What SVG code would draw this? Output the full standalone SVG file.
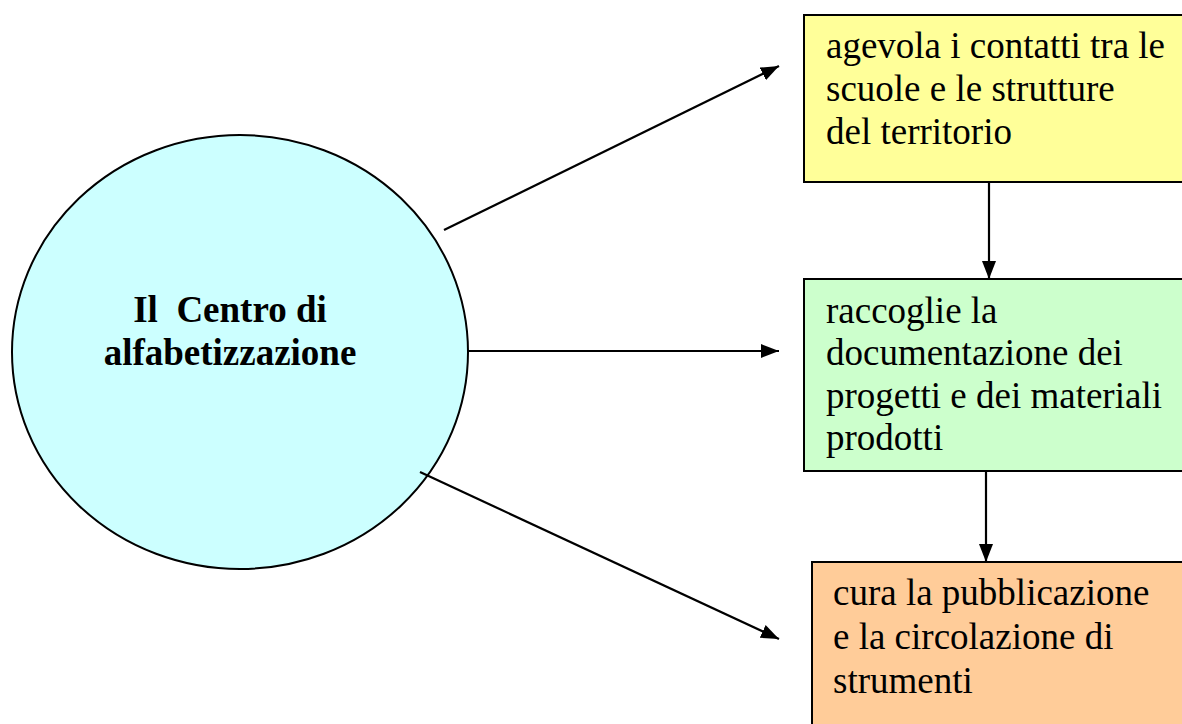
<svg xmlns="http://www.w3.org/2000/svg" width="1182" height="724" viewBox="0 0 1182 724">
<style>
.box{stroke:#000;stroke-width:2}
.t{font-family:"Liberation Serif","Times New Roman",serif;font-size:37px;fill:#000}
.b{font-weight:bold}
.c{stroke:#000;stroke-width:2.2;fill:none}
</style>
<defs>
<marker id="ah" markerWidth="10" markerHeight="8" refX="10" refY="4" orient="auto" markerUnits="userSpaceOnUse" viewBox="0 0 10 8">
<path d="M0,0 L10,4 L0,8 Z" fill="#000"/>
</marker>
<marker id="ah2" markerWidth="18" markerHeight="14" refX="18" refY="7" orient="auto" markerUnits="userSpaceOnUse" viewBox="0 0 18 14">
<path d="M0,0 L18,7 L0,14 Z" fill="#000"/>
</marker>
</defs>
<rect width="1182" height="724" fill="#fff"/>
<g id="center">
<ellipse cx="240" cy="352" rx="228" ry="217" fill="#CCFFFF" stroke="#000" stroke-width="2"/>
<text class="t b" x="230" y="322" text-anchor="middle" xml:space="preserve">Il  Centro di</text>
<text class="t b" x="230" y="365" text-anchor="middle">alfabetizzazione</text>
</g>
<g id="node1">
<rect class="box" x="804" y="15" width="400" height="167" fill="#FFFF99"/>
<text class="t" x="826" y="58">agevola i contatti tra le</text>
<text class="t" x="826" y="101">scuole e le strutture</text>
<text class="t" x="826" y="144">del territorio</text>
</g>
<g id="node2">
<rect class="box" x="804" y="279" width="400" height="192" fill="#CCFFCC"/>
<text class="t" x="826" y="323">raccoglie la</text>
<text class="t" x="826" y="365">documentazione dei</text>
<text class="t" x="826" y="408">progetti e dei materiali</text>
<text class="t" x="826" y="450">prodotti</text>
</g>
<g id="node3">
<rect class="box" x="812" y="562" width="400" height="200" fill="#FFCC99"/>
<text class="t" x="833" y="605">cura la pubblicazione</text>
<text class="t" x="833" y="649">e la circolazione di</text>
<text class="t" x="833" y="693">strumenti</text>
</g>
<g id="connectors">
<line class="c" x1="444" y1="230" x2="779" y2="66" marker-end="url(#ah2)"/>
<line class="c" x1="468" y1="351" x2="779" y2="351" marker-end="url(#ah2)"/>
<line class="c" x1="420" y1="472" x2="779" y2="639" marker-end="url(#ah2)"/>
<line class="c" x1="989" y1="182" x2="989" y2="279" marker-end="url(#ah2)"/>
<line class="c" x1="986" y1="471" x2="986" y2="562" marker-end="url(#ah2)"/>
</g>
</svg>
